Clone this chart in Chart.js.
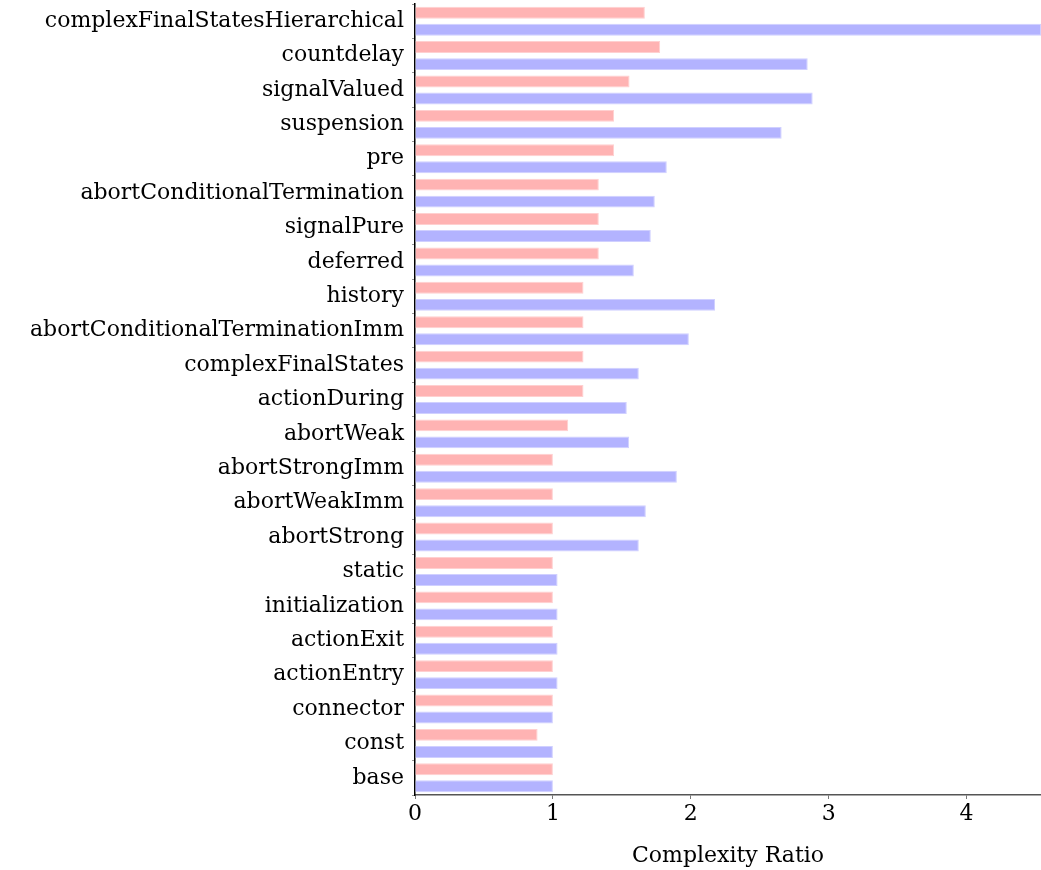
<!DOCTYPE html>
<html>
<head>
<meta charset="utf-8">
<script src="https://cdn.jsdelivr.net/npm/chart.js@4/dist/chart.umd.min.js"></script>
<style>
  html, body { margin: 0; padding: 0; background: #fff; }
  #wrap { width: 1041px; height: 870px; }
</style>
</head>
<body>
<div id="wrap"><canvas id="c" width="1041" height="870"></canvas></div>
<script>
// Benchmarks, ordered from top to bottom
const categories = [
  "complexFinalStatesHierarchical", "countdelay", "signalValued", "suspension", "pre",
  "abortConditionalTermination", "signalPure", "deferred", "history",
  "abortConditionalTerminationImm", "complexFinalStates", "actionDuring", "abortWeak",
  "abortStrongImm", "abortWeakImm", "abortStrong", "static", "initialization",
  "actionExit", "actionEntry", "connector", "const", "base"
];

// Complexity ratio, first series (red)
const redValues = [
  1.667, 1.778, 1.556, 1.444, 1.444,
  1.333, 1.333, 1.333, 1.222,
  1.222, 1.222, 1.222, 1.111,
  1.0, 1.0, 1.0, 1.0, 1.0,
  1.0, 1.0, 1.0, 0.889, 1.0
];

// Complexity ratio, second series (blue)
const blueValues = [
  4.54, 2.848, 2.884, 2.659, 1.826,
  1.739, 1.710, 1.587, 2.176,
  1.986, 1.623, 1.536, 1.553,
  1.899, 1.674, 1.623, 1.034, 1.034,
  1.034, 1.034, 1.0, 1.0, 1.0
];

const xTicks = [0, 1, 2, 3, 4];
const xMax = 4.54;
const serif = "'DejaVu Serif', 'Liberation Serif', serif";

new Chart(document.getElementById('c'), {
  type: 'bar',
  data: {
    labels: categories,
    datasets: [
      { data: redValues, backgroundColor: '#ffb3b3', borderColor: '#ffd0d0', borderWidth: 1,
        categoryPercentage: 0.99, barPercentage: 0.7 },
      { data: blueValues, backgroundColor: '#b3b3ff', borderColor: '#d0d0ff', borderWidth: 1,
        categoryPercentage: 0.99, barPercentage: 0.7 }
    ]
  },
  options: {
    indexAxis: 'y',
    responsive: false,
    animation: false,
    layout: { padding: { top: 4, right: 0, bottom: 0, left: 0 } },
    plugins: { legend: { display: false }, tooltip: { enabled: false } },
    scales: {
      x: {
        min: 0, max: xMax,
        afterBuildTicks: (s) => { s.ticks = xTicks.map(v => ({ value: v })); },
        afterFit: (s) => { s.height = 75; s.paddingLeft = 0; s.paddingRight = 0; },
        grid: { display: true, drawOnChartArea: false, tickLength: 4, color: '#777' },
        border: { display: true, color: '#555', width: 1.5 },
        ticks: { color: '#000', padding: 2, font: { family: serif, size: 22 } },
        title: { display: true, text: 'Complexity Ratio', color: '#000', padding: { top: 10, bottom: 1 },
                 font: { family: serif, size: 22 } }
      },
      y: {
        afterFit: (s) => { s.width = 415; s.paddingTop = 0; s.paddingBottom = 0; },
        grid: { display: true, drawOnChartArea: false, tickLength: 3, color: '#999', offset: true },
        border: { display: true, color: '#000', width: 1.5 },
        ticks: { color: '#000', padding: 8, autoSkip: false, font: { family: serif, size: 22 } }
      }
    }
  }
});
</script>
</body>
</html>
